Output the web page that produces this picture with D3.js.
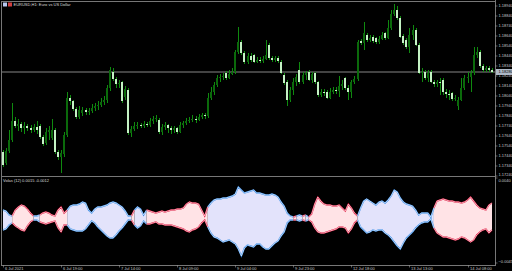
<!DOCTYPE html>
<html lang="en">
<head>
    <meta charset="UTF-8">
    <title>EURUSD H1 with Volas</title>
    <script src="https://d3js.org/d3.v7.min.js"></script>
    <style>
        body { margin: 0; background: #000; }
        svg { display: block; }
        text { font-family: "Liberation Sans", "DejaVu Sans", sans-serif; }
    </style>
</head>
<body>
    <svg id="chart" width="512" height="271"></svg>

    <script>
        const width = 512, height = 271;

        // EURUSD H1 candles
        const opens = [
            1.1748,1.1737,1.1749,1.1760,1.1779,1.1774,1.1776,1.1772,1.1774,1.1772,
            1.1770,1.1773,1.1774,1.1763,1.1757,1.1768,1.1762,1.1770,1.1748,1.1743,
            1.1746,1.1765,1.1802,1.1799,1.1791,1.1783,1.1787,1.1790,1.1788,1.1789,
            1.1792,1.1794,1.1795,1.1798,1.1800,1.1812,1.1828,1.1821,1.1816,1.1818,
            1.1803,1.1810,1.1767,1.1771,1.1774,1.1775,1.1774,1.1776,1.1775,1.1779,
            1.1781,1.1780,1.1768,1.1773,1.1775,1.1772,1.1770,1.1772,1.1768,1.1775,
            1.1777,1.1779,1.1780,1.1781,1.1780,1.1783,1.1785,1.1784,1.1802,1.1808,
            1.1815,1.1822,1.1823,1.1827,1.1822,1.1826,1.1828,1.1848,1.1858,1.1847,
            1.1838,1.1844,1.1845,1.1838,1.1840,1.1839,1.1841,1.1855,1.1842,1.1840,
            1.1842,1.1838,1.1825,1.1818,1.1800,1.1810,1.1818,1.1830,1.1818,1.1825,
            1.1828,1.1820,1.1827,1.1818,1.1805,1.1808,1.1808,1.1802,1.1808,1.1810,
            1.1809,1.1814,1.1822,1.1812,1.1808,1.1818,1.1821,1.1859,1.1857,1.1865,
            1.1860,1.1863,1.1862,1.1858,1.1861,1.1867,1.1862,1.1872,1.1886,1.1890,
            1.1882,1.1864,1.1860,1.1853,1.1865,1.1870,1.1855,1.1827,1.1828,1.1822,
            1.1828,1.1818,1.1816,1.1818,1.1820,1.1808,1.1806,1.1807,1.1801,1.1794,
            1.1800,1.1812,1.1822,1.1823,1.1827,1.1845,1.1848,1.1834,1.1830,1.1832,
            1.1830
        ];
        const highs = [
            1.1750,1.1752,1.1770,1.1797,1.1783,1.1781,1.1778,1.1778,1.1776,1.1775,
            1.1776,1.1779,1.1776,1.1765,1.1772,1.1774,1.1781,1.1772,1.1750,1.1750,
            1.1768,1.1808,1.1805,1.1800,1.1793,1.1794,1.1793,1.1792,1.1792,1.1796,
            1.1797,1.1799,1.1802,1.1804,1.1815,1.1833,1.1832,1.1823,1.1820,1.1819,
            1.1814,1.1812,1.1774,1.1778,1.1778,1.1777,1.1779,1.1778,1.1782,1.1784,
            1.1785,1.1782,1.1776,1.1778,1.1776,1.1774,1.1774,1.1773,1.1778,1.1779,
            1.1782,1.1783,1.1785,1.1784,1.1786,1.1787,1.1787,1.1807,1.1813,1.1818,
            1.1825,1.1826,1.1827,1.1829,1.1830,1.1832,1.1850,1.1873,1.1860,1.1849,
            1.1847,1.1847,1.1846,1.1843,1.1843,1.1844,1.1860,1.1857,1.1844,1.1844,
            1.1844,1.1840,1.1827,1.1820,1.1813,1.1822,1.1826,1.1838,1.1828,1.1829,
            1.1830,1.1828,1.1828,1.1819,1.1811,1.1811,1.1810,1.1812,1.1813,1.1813,
            1.1824,1.1820,1.1823,1.1815,1.1820,1.1824,1.1860,1.1861,1.1878,1.1867,
            1.1865,1.1865,1.1863,1.1864,1.1868,1.1868,1.1880,1.1890,1.1896,1.1894,
            1.1884,1.1866,1.1862,1.1872,1.1875,1.1872,1.1857,1.1832,1.1830,1.1830,
            1.1830,1.1820,1.1820,1.1822,1.1822,1.1811,1.1810,1.1808,1.1805,1.1803,
            1.1822,1.1825,1.1828,1.1830,1.1853,1.1853,1.1850,1.1836,1.1834,1.1834,
            1.1832
        ];
        const lows = [
            1.1733,1.1735,1.1747,1.1758,1.1772,1.1769,1.1768,1.1766,1.1769,1.1767,
            1.1768,1.1766,1.1761,1.1754,1.1755,1.1760,1.1760,1.1746,1.1740,1.1727,
            1.1743,1.1763,1.1795,1.1789,1.1781,1.1781,1.1784,1.1785,1.1785,1.1787,
            1.1789,1.1790,1.1793,1.1795,1.1797,1.1809,1.1819,1.1812,1.1812,1.1797,
            1.1800,1.1765,1.1763,1.1769,1.1771,1.1772,1.1772,1.1773,1.1773,1.1776,
            1.1778,1.1766,1.1765,1.1770,1.1767,1.1766,1.1767,1.1766,1.1767,1.1772,
            1.1775,1.1777,1.1778,1.1777,1.1779,1.1781,1.1781,1.1782,1.1800,1.1805,
            1.1813,1.1818,1.1820,1.1820,1.1821,1.1825,1.1826,1.1846,1.1845,1.1836,
            1.1836,1.1838,1.1837,1.1837,1.1837,1.1837,1.1840,1.1840,1.1838,1.1838,
            1.1837,1.1826,1.1815,1.1794,1.1798,1.1805,1.1814,1.1816,1.1816,1.1820,
            1.1819,1.1817,1.1816,1.1803,1.1803,1.1804,1.1801,1.1801,1.1806,1.1806,
            1.1803,1.1810,1.1810,1.1800,1.1802,1.1816,1.1819,1.1855,1.1850,1.1858,
            1.1858,1.1857,1.1856,1.1856,1.1860,1.1860,1.1861,1.1870,1.1884,1.1880,
            1.1862,1.1855,1.1851,1.1847,1.1860,1.1854,1.1826,1.1818,1.1820,1.1818,
            1.1817,1.1813,1.1813,1.1805,1.1805,1.1802,1.1800,1.1799,1.1799,1.1790,
            1.1799,1.1810,1.1817,1.1808,1.1825,1.1842,1.1832,1.1828,1.1828,1.1828,
            1.1827
        ];
        const closes = [
            1.1735,1.1749,1.1760,1.1779,1.1774,1.1776,1.1772,1.1774,1.1772,1.1770,
            1.1773,1.1770,1.1763,1.1756,1.1768,1.1770,1.1770,1.1748,1.1743,1.1747,
            1.1765,1.1802,1.1799,1.1791,1.1783,1.1790,1.1790,1.1788,1.1789,1.1792,
            1.1794,1.1795,1.1798,1.1800,1.1812,1.1830,1.1821,1.1816,1.1817,1.1799,
            1.1811,1.1767,1.1771,1.1774,1.1775,1.1774,1.1776,1.1775,1.1779,1.1781,
            1.1782,1.1768,1.1773,1.1775,1.1772,1.1770,1.1772,1.1768,1.1775,1.1777,
            1.1779,1.1780,1.1781,1.1780,1.1783,1.1785,1.1784,1.1802,1.1808,1.1815,
            1.1822,1.1823,1.1824,1.1822,1.1826,1.1828,1.1848,1.1858,1.1847,1.1838,
            1.1844,1.1840,1.1838,1.1840,1.1839,1.1841,1.1845,1.1842,1.1840,1.1842,
            1.1839,1.1827,1.1817,1.1800,1.1810,1.1818,1.1823,1.1818,1.1825,1.1827,
            1.1820,1.1826,1.1818,1.1805,1.1808,1.1807,1.1802,1.1808,1.1810,1.1809,
            1.1814,1.1816,1.1812,1.1808,1.1818,1.1821,1.1858,1.1857,1.1867,1.1860,
            1.1862,1.1859,1.1858,1.1861,1.1865,1.1862,1.1872,1.1886,1.1890,1.1882,
            1.1863,1.1857,1.1853,1.1865,1.1870,1.1855,1.1827,1.1828,1.1822,1.1827,
            1.1818,1.1816,1.1818,1.1817,1.1808,1.1806,1.1805,1.1801,1.1802,1.1800,
            1.1812,1.1822,1.1823,1.1827,1.1845,1.1848,1.1834,1.1830,1.1832,1.1830,
            1.1828
        ];

        // Volas indicator: upper / lower band and trend (1 = up, -1 = down)
        const volUpper = [
            0.0008,0.0007,0.0003,0.0002,0.0008,0.0011,0.0013,0.0012,0.0009,0.0005,
            0.0002,0.0002,0.0003,0.0005,0.0006,0.0005,0.0003,0.0002,0.0008,0.0011,
            0.0005,0.0008,0.0012,0.0013,0.0013,0.0014,0.0016,0.0015,0.0008,0.0005,
            0.0009,0.0011,0.0011,0.0012,0.0013,0.0015,0.0016,0.0015,0.0013,0.0011,
            0.0007,0.0002,0.0002,0.0008,0.0011,0.0009,0.0003,0.0008,0.0007,0.0006,
            0.0005,0.0006,0.0007,0.0006,0.0007,0.0008,0.0008,0.0009,0.0009,0.0010,
            0.0014,0.0016,0.0015,0.0015,0.0014,0.0008,0.0002,0.0011,0.0015,0.0018,
            0.0019,0.0019,0.0020,0.0020,0.0021,0.0022,0.0024,0.0031,0.0028,0.0025,
            0.0026,0.0027,0.0028,0.0025,0.0025,0.0024,0.0023,0.0023,0.0024,0.0023,
            0.0021,0.0016,0.0012,0.0005,0.0002,0.0001,0.0002,0.0003,0.0002,0.0003,
            0.0001,0.0004,0.0014,0.0021,0.0017,0.0014,0.0013,0.0013,0.0012,0.0012,
            0.0013,0.0010,0.0007,0.0014,0.0010,0.0005,0.0002,0.0010,0.0017,0.0019,
            0.0017,0.0015,0.0013,0.0016,0.0017,0.0015,0.0018,0.0022,0.0028,0.0026,
            0.0020,0.0016,0.0014,0.0013,0.0012,0.0008,0.0003,0.0005,0.0005,0.0005,
            0.0001,0.0010,0.0017,0.0018,0.0019,0.0018,0.0017,0.0017,0.0016,0.0016,
            0.0015,0.0016,0.0018,0.0021,0.0017,0.0013,0.0010,0.0009,0.0008,0.0013,
            0.0015
        ];
        const volLower = [
            -0.0012,-0.0011,-0.0007,-0.0005,-0.0008,-0.0010,-0.0012,-0.0013,-0.0008,-0.0004,
            -0.0002,-0.0002,-0.0004,-0.0005,-0.0006,-0.0005,-0.0004,-0.0003,-0.0010,-0.0014,
            -0.0007,-0.0007,-0.0011,-0.0012,-0.0013,-0.0013,-0.0013,-0.0011,-0.0007,-0.0003,
            -0.0005,-0.0009,-0.0012,-0.0015,-0.0018,-0.0020,-0.0020,-0.0017,-0.0013,-0.0010,
            -0.0006,-0.0002,-0.0002,-0.0007,-0.0010,-0.0008,-0.0003,-0.0006,-0.0006,-0.0005,
            -0.0004,-0.0006,-0.0006,-0.0007,-0.0007,-0.0007,-0.0008,-0.0009,-0.0010,-0.0011,
            -0.0013,-0.0014,-0.0012,-0.0011,-0.0009,-0.0005,-0.0002,-0.0009,-0.0015,-0.0019,
            -0.0020,-0.0022,-0.0024,-0.0023,-0.0022,-0.0024,-0.0026,-0.0031,-0.0038,-0.0030,
            -0.0027,-0.0028,-0.0029,-0.0026,-0.0026,-0.0029,-0.0031,-0.0031,-0.0028,-0.0025,
            -0.0023,-0.0018,-0.0014,-0.0005,-0.0002,-0.0002,-0.0002,-0.0003,-0.0002,-0.0003,
            -0.0002,-0.0004,-0.0010,-0.0014,-0.0015,-0.0015,-0.0014,-0.0013,-0.0012,-0.0011,
            -0.0009,-0.0009,-0.0010,-0.0015,-0.0011,-0.0005,-0.0002,-0.0009,-0.0012,-0.0015,
            -0.0014,-0.0012,-0.0013,-0.0012,-0.0012,-0.0015,-0.0017,-0.0020,-0.0024,-0.0028,
            -0.0031,-0.0025,-0.0020,-0.0017,-0.0014,-0.0010,-0.0007,-0.0005,-0.0004,-0.0004,
            -0.0001,-0.0010,-0.0015,-0.0017,-0.0019,-0.0019,-0.0020,-0.0021,-0.0022,-0.0021,
            -0.0019,-0.0020,-0.0022,-0.0024,-0.0022,-0.0017,-0.0014,-0.0012,-0.0011,-0.0015,
            -0.0012
        ];
        const volTrend = [
            1,1,1,-1,-1,-1,-1,-1,-1,-1,
            1,1,-1,-1,-1,-1,-1,-1,-1,-1,
            -1,1,1,1,1,1,1,1,1,1,
            1,1,1,1,1,1,1,1,1,1,
            1,1,-1,1,1,1,1,-1,-1,-1,
            -1,-1,-1,-1,-1,-1,-1,-1,-1,-1,
            -1,-1,-1,-1,-1,-1,-1,1,1,1,
            1,1,1,1,1,1,1,1,1,1,
            1,1,1,1,1,1,1,1,1,1,
            1,1,1,1,1,-1,1,1,-1,1,
            -1,-1,-1,-1,-1,-1,-1,-1,-1,-1,
            -1,-1,-1,-1,-1,-1,1,1,1,1,
            1,1,1,1,1,1,1,1,1,1,
            1,1,1,1,1,1,1,1,1,1,
            1,-1,-1,-1,-1,-1,-1,-1,-1,-1,
            -1,-1,-1,-1,-1,-1,-1,-1,-1,-1,
            -1
        ];

        // axis labels
        const priceTicks = [1.1894, 1.1884, 1.1874, 1.1864, 1.1854, 1.1844, 1.1834, 1.1824, 1.1814,
                            1.1804, 1.1794, 1.1784, 1.1774, 1.1764, 1.1754, 1.1744, 1.1734, 1.1724];
        const volTicks = [0.0040, -0.0045];
        const timeTickBars = [0, 19, 38, 57, 76, 95, 114, 133, 152];
        const timeLabels = ["6 Jul 2021", "6 Jul 19:00", "7 Jul 14:00", "8 Jul 09:00", "9 Jul 04:00",
                            "9 Jul 23:00", "12 Jul 18:00", "13 Jul 13:00", "14 Jul 08:00"];
        const symbolTitle = "EURUSD,H1:  Euro vs US Dollar";
        const volTitle = "Volas (12) 0.0015 -0.0012";

        const N = closes.length;
        const plotRight = 495;
        const mainTop = 1, mainBottom = 176;
        const subTop = 177, subBottom = 265;

        const x = d3.scaleLinear().domain([0, N - 1]).range([3, 492]);
        const y = d3.scaleLinear().domain([1.1900, 1.1730]).range([0, 170]);
        const yv = d3.scaleLinear().domain([-0.0045, 0.0040]).range([263, 178]);

        const svg = d3.select("#chart");
        svg.append("rect").attr("width", width).attr("height", height).attr("fill", "#000");

        const fmt5 = d3.format(".5f");
        const fmt4 = d3.format(".4f");

        // clip regions
        const defs = svg.append("defs");
        defs.append("clipPath").attr("id", "clipMain").append("rect")
            .attr("x", 2).attr("y", mainTop + 1).attr("width", plotRight - 2).attr("height", mainBottom - mainTop - 1);
        defs.append("clipPath").attr("id", "clipSub").append("rect")
            .attr("x", 2).attr("y", subTop + 1).attr("width", plotRight - 2).attr("height", subBottom - subTop - 1);

        // bid line
        const lastClose = closes[N - 1];
        svg.append("line")
            .attr("x1", 2).attr("x2", plotRight)
            .attr("y1", y(lastClose)).attr("y2", y(lastClose))
            .attr("stroke", "#5a5a5a").attr("stroke-width", 1.5);

        // candles
        const candles = svg.append("g").attr("clip-path", "url(#clipMain)")
            .attr("shape-rendering", "crispEdges");
        const bars = candles.selectAll("g").data(d3.range(N)).enter().append("g");
        bars.append("rect")
            .attr("x", i => Math.round(x(i)))
            .attr("width", 1)
            .attr("y", i => y(highs[i]))
            .attr("height", i => Math.max(1, y(lows[i]) - y(highs[i])))
            .attr("fill", "#0f8a0f");
        bars.append("rect")
            .attr("x", i => Math.round(x(i)) - 1)
            .attr("width", 2)
            .attr("y", i => y(Math.max(opens[i], closes[i])))
            .attr("height", i => Math.max(1, Math.abs(y(opens[i]) - y(closes[i]))))
            .attr("fill", i => closes[i] >= opens[i] ? "#0b6a0b" : "#c4f2c4");

        // Volas indicator
        const runs = [];
        let start = 0;
        for (let i = 1; i <= N; i++) {
            if (i === N || volTrend[i] !== volTrend[start]) {
                runs.push({ s: start, e: Math.min(i, N - 1), t: volTrend[start] });
                start = i;
            }
        }
        const area = d3.area()
            .x(i => x(i))
            .y0(i => yv(volLower[i]))
            .y1(i => yv(volUpper[i]));
        const upLine = d3.line().x(i => x(i)).y(i => yv(volUpper[i]));
        const loLine = d3.line().x(i => x(i)).y(i => yv(volLower[i]));

        const sub = svg.append("g").attr("clip-path", "url(#clipSub)");
        const fillColor = t => t > 0 ? "#e3e3fb" : "#ffe3e6";
        const edgeColor = t => t > 0 ? "#2f86e6" : "#e0143c";

        runs.forEach(r => {
            const idx = d3.range(r.s, r.e + 1);
            sub.append("path").datum(idx).attr("d", area).attr("fill", fillColor(r.t));
        });
        runs.forEach(r => {
            const idx = d3.range(r.s, r.e + 1);
            [upLine, loLine].forEach(ln => {
                sub.append("path").datum(idx).attr("d", ln)
                    .attr("fill", "none").attr("stroke", edgeColor(r.t)).attr("stroke-width", 1.4);
                sub.append("path").datum(idx).attr("d", ln)
                    .attr("fill", "none").attr("stroke", "#ffffff").attr("stroke-width", 0.6);
            });
        });

        // frames
        const frame = svg.append("g").attr("stroke", "#777").attr("stroke-width", 1)
            .attr("shape-rendering", "crispEdges");
        frame.append("line").attr("x1", 1.5).attr("x2", 1.5).attr("y1", mainTop).attr("y2", subBottom);
        frame.append("line").attr("x1", plotRight + 0.5).attr("x2", plotRight + 0.5).attr("y1", 0).attr("y2", subBottom + 1);
        frame.append("line").attr("x1", 1).attr("x2", plotRight + 1).attr("y1", mainTop + 0.5).attr("y2", mainTop + 0.5);
        frame.append("line").attr("x1", 1).attr("x2", plotRight + 1).attr("y1", mainBottom + 0.5).attr("y2", mainBottom + 0.5);
        frame.append("line").attr("x1", 1).attr("x2", plotRight + 1).attr("y1", subBottom + 0.5).attr("y2", subBottom + 0.5);

        // price axis
        const axisG = svg.append("g").attr("font-size", 4).attr("fill", "#c8c8c8");
        priceTicks.forEach(p => {
            const yy = y(p);
            axisG.append("line").attr("x1", plotRight).attr("x2", plotRight + 2.5)
                .attr("y1", yy).attr("y2", yy).attr("stroke", "#999").attr("stroke-width", 0.6);
            axisG.append("text").attr("x", plotRight + 3.5).attr("y", Math.min(yy, 174.5)).attr("dy", "0.35em").text(fmt5(p));
        });
        // bid marker
        const by = y(lastClose);
        svg.append("rect").attr("x", plotRight + 1).attr("y", by - 3).attr("width", 16).attr("height", 6)
            .attr("fill", "#aeb8c6");
        svg.append("text").attr("x", plotRight + 3.5).attr("y", by).attr("dy", "0.35em")
            .attr("font-size", 4).attr("fill", "#000").text(fmt5(lastClose));

        // indicator axis
        volTicks.forEach(v => {
            const yy = yv(v);
            axisG.append("line").attr("x1", plotRight).attr("x2", plotRight + 2.5)
                .attr("y1", yy).attr("y2", yy).attr("stroke", "#999").attr("stroke-width", 0.6);
            axisG.append("text").attr("x", plotRight + 3.5)
                .attr("y", Math.min(Math.max(yy, 180.5), 261.5)).attr("dy", "0.35em").text(fmt4(v));
        });

        // time axis
        timeTickBars.forEach((b, k) => {
            const xx = Math.round(x(b)) + 0.5;
            axisG.append("line").attr("x1", xx).attr("x2", xx).attr("y1", subBottom).attr("y2", subBottom + 2.5)
                .attr("stroke", "#999").attr("stroke-width", 0.6);
            axisG.append("text").attr("x", xx + 1.5).attr("y", 269.8).text(timeLabels[k]);
        });

        // titles
        svg.append("rect").attr("x", 3).attr("y", 2.5).attr("width", 4).attr("height", 4).attr("fill", "#b8c8f0");
        svg.append("rect").attr("x", 8).attr("y", 2.5).attr("width", 4).attr("height", 4).attr("fill", "#d04040");
        svg.append("text").attr("x", 13.5).attr("y", 6).attr("font-size", 4).attr("fill", "#ddd").text(symbolTitle);
        svg.append("text").attr("x", 3).attr("y", 181.5).attr("font-size", 4).attr("fill", "#ddd").text(volTitle);
    </script>
</body>
</html>
